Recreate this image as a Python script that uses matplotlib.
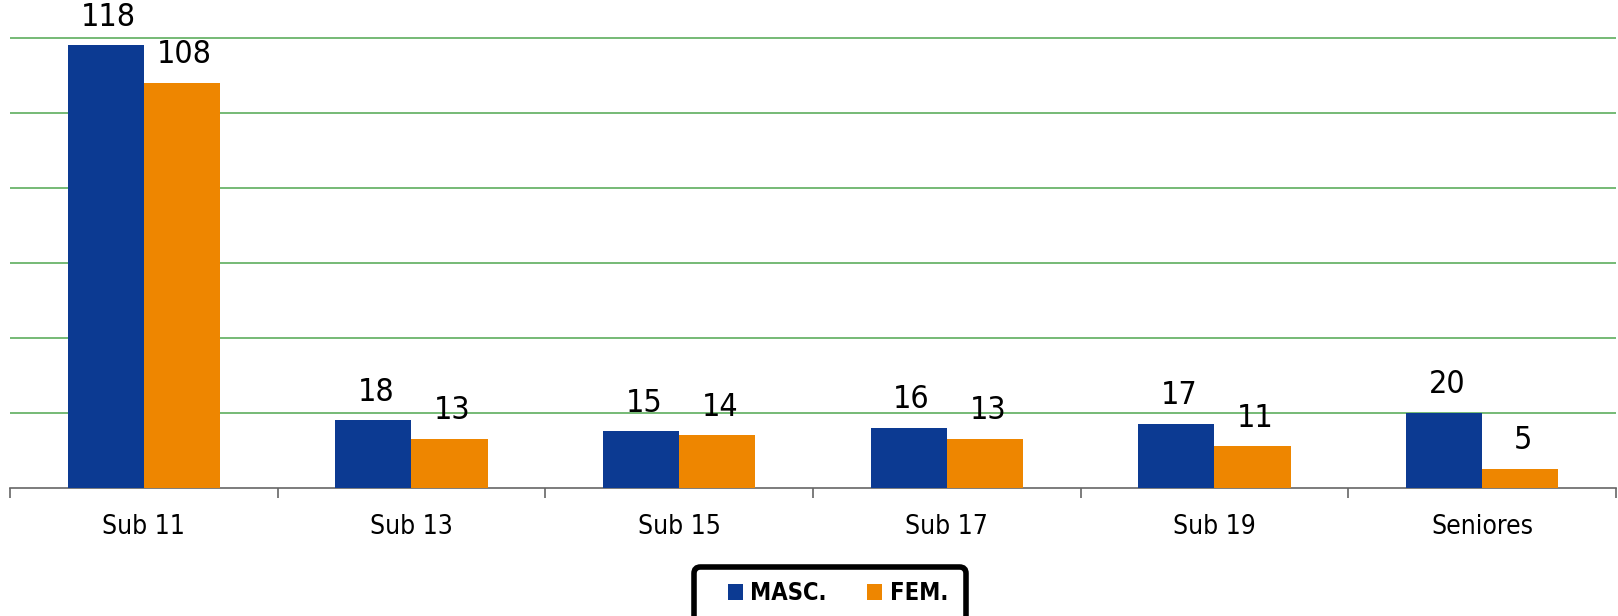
"""Bar chart: athletes per age group, masculine vs feminine."""

import matplotlib

matplotlib.use("Agg")
import matplotlib.pyplot as plt
import numpy as np
from matplotlib.patches import FancyBboxPatch, Patch

categories = ["Sub 11", "Sub 13", "Sub 15", "Sub 17", "Sub 19", "Seniores"]
masc = [118, 18, 15, 16, 17, 20]
fem = [108, 13, 14, 13, 11, 5]
series_names = ["MASC.", "FEM."]

BLUE = "#0C3A92"
ORANGE = "#EE8600"
GRID = "#5DAE5D"

plt.rcParams["font.family"] = ["DejaVu Sans"]
plt.rcParams["font.stretch"] = "condensed"

W, H = 1618, 616
fig = plt.figure(figsize=(W / 100, H / 100), dpi=100)
ax = fig.add_axes([10 / W, 128.3 / H, 1606 / W, 451.5 / H])

x = np.arange(len(categories))
w = 0.285
bars_m = ax.bar(x - w / 2, masc, width=w, color=BLUE, zorder=3)
bars_f = ax.bar(x + w / 2, fem, width=w, color=ORANGE, zorder=3)

for bars in (bars_m, bars_f):
    for b in bars:
        ax.annotate(
            f"{int(b.get_height())}",
            (b.get_x() + b.get_width() / 2, b.get_height()),
            xytext=(2, 9),
            textcoords="offset points",
            ha="center",
            va="bottom",
            fontsize=23,
            color="black",
        )

ax.set_xlim(-0.5, len(categories) - 0.5)
ax.set_ylim(0, 120.4)
ax.set_yticks(np.arange(20, 121, 20))
ax.yaxis.grid(True, color=GRID, linewidth=1.2, zorder=0)
ax.tick_params(axis="y", length=0, labelleft=False)

ax.set_xticks(x)
ax.set_xticklabels(categories, fontsize=19)
ax.tick_params(axis="x", which="major", length=0, pad=19)
ax.set_xticks(np.arange(-0.5, len(categories), 1.0), minor=True)
ax.tick_params(axis="x", which="minor", length=7, width=1.2, color="#666666")

for side in ("top", "right", "left"):
    ax.spines[side].set_visible(False)
ax.spines["bottom"].set_color("#666666")
ax.spines["bottom"].set_linewidth(1.2)

# legend box runs off the bottom edge, as in the original
box = FancyBboxPatch(
    (694 / W, -10 / H),
    272 / W,
    59 / H,
    boxstyle="round,pad=0,rounding_size=0.004",
    mutation_aspect=W / H,
    transform=fig.transFigure,
    facecolor="white",
    edgecolor="black",
    linewidth=4,
    zorder=1,
)
fig.patches.append(box)

handles = [Patch(facecolor=BLUE), Patch(facecolor=ORANGE)]
leg = fig.legend(
    handles,
    series_names,
    loc="center",
    bbox_to_anchor=(838 / W, 23 / H),
    ncol=2,
    frameon=False,
    prop={"weight": "bold", "size": 17},
    handlelength=0.65,
    handleheight=0.65,
    handletextpad=0.3,
    columnspacing=1.7,
    borderpad=0,
    borderaxespad=0,
)
leg.set_zorder(2)

fig.savefig("out.png", dpi=100)
plt.close(fig)
